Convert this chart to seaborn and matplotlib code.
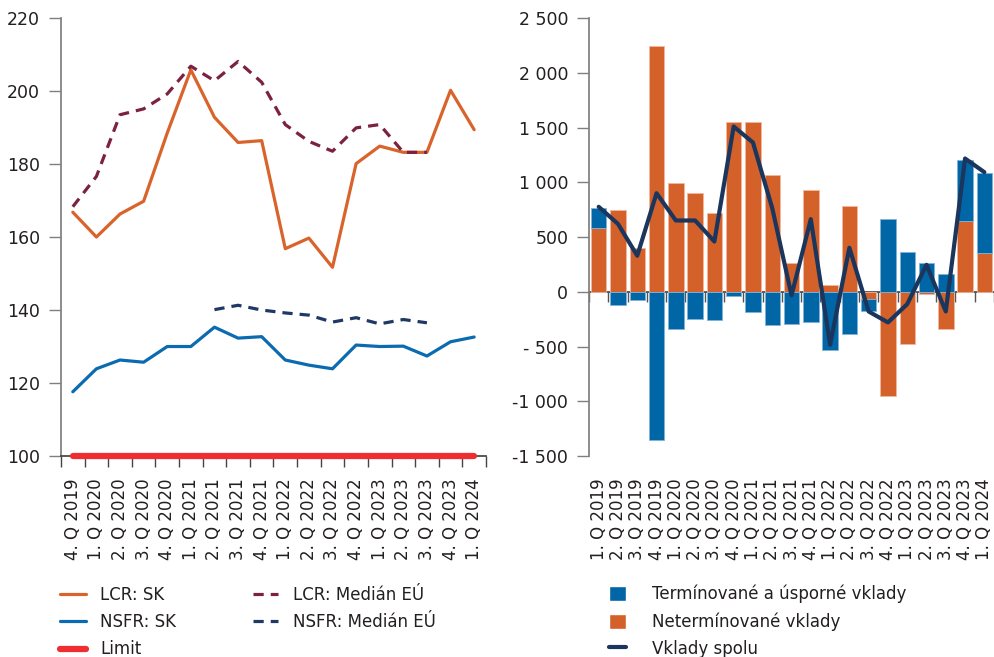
import numpy as np
import pandas as pd
import matplotlib
matplotlib.use("Agg")
import matplotlib.pyplot as plt
import matplotlib.ticker as ticker
from matplotlib.patches import Patch
from matplotlib.lines import Line2D
import seaborn as sns

sns.set_theme(style="ticks")
plt.rcParams["font.family"] = ["DejaVu Sans"]
plt.rcParams["text.color"] = "#231f20"

# --- ľavý graf: LCR a NSFR (%) ---
ratio_quarters = ["4. Q 2019", "1. Q 2020", "2. Q 2020", "3. Q 2020", "4. Q 2020",
                  "1. Q 2021", "2. Q 2021", "3. Q 2021", "4. Q 2021",
                  "1. Q 2022", "2. Q 2022", "3. Q 2022", "4. Q 2022",
                  "1. Q 2023", "2. Q 2023", "3. Q 2023", "4. Q 2023", "1. Q 2024"]
lcr_sk = [166.8, 160.0, 166.3, 169.8, 188.5, 205.8, 192.8, 185.9, 186.4,
          156.8, 159.7, 151.7, 180.1, 184.9, 183.2, 183.2, 200.2, 189.4]
lcr_eu = [168.3, 176.6, 193.5, 195.1, 199.2, 206.8, 202.8, 208.1, 202.4,
          190.8, 186.2, 183.5, 189.9, 190.8, 183.2, 183.2, np.nan, np.nan]
nsfr_sk = [117.6, 123.9, 126.3, 125.7, 130.0, 130.0, 135.3, 132.3, 132.7,
           126.3, 124.9, 123.9, 130.4, 130.0, 130.1, 127.4, 131.3, 132.6]
nsfr_eu = [np.nan, np.nan, np.nan, np.nan, np.nan, np.nan, 140.1, 141.3, 140.0,
           139.2, 138.6, 136.7, 137.9, 136.2, 137.4, 136.5, np.nan, np.nan]
limit = [100] * 18

# --- pravý graf: zmena vkladov (mil. EUR) ---
deposit_quarters = ["1. Q 2019", "2. Q 2019", "3. Q 2019", "4. Q 2019",
                    "1. Q 2020", "2. Q 2020", "3. Q 2020", "4. Q 2020",
                    "1. Q 2021", "2. Q 2021", "3. Q 2021", "4. Q 2021",
                    "1. Q 2022", "2. Q 2022", "3. Q 2022", "4. Q 2022",
                    "1. Q 2023", "2. Q 2023", "3. Q 2023", "4. Q 2023", "1. Q 2024"]
term_dep = [185, -125, -79, -1351, -341, -249, -262, -43, -186, -307, -292,
            -274, -529, -383, -116, 663, 359, 259, 161, 557, 733]
demand_dep = [580, 745, 402, 2248, 992, 900, 721, 1548, 1548, 1065, 262,
              928, 58, 782, -64, -949, -481, -21, -341, 648, 353]
total_dep = [776, 620, 329, 900, 651, 651, 459, 1509, 1363, 764, -33,
             663, -484, 402, -180, -280, -113, 246, -180, 1217, 1092]

ORANGE = "#d9642b"
BLUE = "#0a6bb0"
MAROON = "#7b2141"
NAVY = "#1f3864"
RED = "#ee2e31"
BAR_ORANGE = "#d4602a"
BAR_BLUE = "#0066a6"
LINE_NAVY = "#1b365d"
AXIS = "#7f7f7f"

fig = plt.figure(figsize=(9.95, 6.57), dpi=100)
ax1 = fig.add_axes([0.0613, 0.3059, 0.4271, 0.6667])
ax2 = fig.add_axes([0.592, 0.3059, 0.407, 0.6667])

# ---------------- ľavý graf ----------------
pos1 = np.arange(len(ratio_quarters))
dash = (0, (3.2, 2.2))
sns.lineplot(x=pos1, y=lcr_sk, color=ORANGE, linewidth=2.3, label="LCR: SK", ax=ax1)
sns.lineplot(x=pos1, y=nsfr_sk, color=BLUE, linewidth=2.3, label="NSFR: SK", ax=ax1)
sns.lineplot(x=pos1, y=limit, color=RED, linewidth=4.5, solid_capstyle="round",
             clip_on=False, zorder=5, label="Limit", ax=ax1)
sns.lineplot(x=pos1, y=lcr_eu, color=MAROON, linewidth=2.3, linestyle=dash,
             label="LCR: Medián EÚ", ax=ax1)
sns.lineplot(x=pos1, y=nsfr_eu, color=NAVY, linewidth=2.3, linestyle=dash,
             label="NSFR: Medián EÚ", ax=ax1)

handles1, labels1 = ax1.get_legend_handles_labels()
ax1.get_legend().remove()

ax1.set_xlim(-0.5, len(ratio_quarters) - 0.5)
ax1.set_ylim(100, 220)
ax1.set_yticks(np.arange(100, 221, 20))
ax1.set_xticks(pos1)
ax1.set_xticklabels(ratio_quarters, rotation=90)
ax1.set_xticks(np.arange(-0.5, len(ratio_quarters), 1.0), minor=True)
ax1.tick_params(axis="x", which="major", length=0, pad=16, labelsize=12, labelcolor="#231f20")
ax1.tick_params(axis="x", which="minor", length=8, width=1, color="#444444", direction="out")
ax1.tick_params(axis="y", length=9, width=1, color=AXIS, pad=6, labelsize=12.5, labelcolor="#231f20")
for s in ["top", "right"]:
    ax1.spines[s].set_visible(False)
ax1.spines["left"].set_color(AXIS)
ax1.spines["bottom"].set_color("#444444")

# ---------------- pravý graf ----------------
df = pd.DataFrame({"quarter": deposit_quarters, "term": term_dep,
                   "demand": demand_dep, "total": total_dep})
term_bottom = np.where(np.sign(df["term"]) == np.sign(df["demand"]), df["demand"], 0)

sns.barplot(data=df, x="quarter", y="demand", order=deposit_quarters, color=BAR_ORANGE,
            saturation=1, errorbar=None, width=0.8, edgecolor="#f3b79a", linewidth=0.6, ax=ax2)
sns.barplot(data=df, x="quarter", y="term", order=deposit_quarters, color=BAR_BLUE,
            saturation=1, errorbar=None, width=0.8, bottom=term_bottom,
            edgecolor="#7fb3d9", linewidth=0.6, ax=ax2)
pos2 = np.arange(len(deposit_quarters))
sns.lineplot(x=pos2, y=df["total"], color=LINE_NAVY, linewidth=3, zorder=6, ax=ax2)

ax2.set_xlim(-0.5, len(deposit_quarters) - 0.5)
ax2.set_ylim(-1500, 2500)
ax2.set_yticks(np.arange(-1500, 2501, 500))


def deposit_fmt(v, _):
    s = f"{abs(v):,.0f}".replace(",", " ")
    if v < 0:
        return ("- " if abs(v) < 1000 else "-") + s
    return s


ax2.yaxis.set_major_formatter(ticker.FuncFormatter(deposit_fmt))
ax2.set_xticks(pos2)
ax2.set_xticklabels(deposit_quarters, rotation=90)
ax2.set_xlabel("")
ax2.set_ylabel("")
ax2.tick_params(axis="x", length=0, pad=16, labelsize=12, labelcolor="#231f20")
ax2.tick_params(axis="y", length=9, width=1, color=AXIS, pad=6, labelsize=12.5, labelcolor="#231f20")
for s in ["top", "right", "bottom"]:
    ax2.spines[s].set_visible(False)
ax2.spines["left"].set_color(AXIS)

# nulová os s ryskami medzi štvrťrokmi
zero_frac = (0 - (-1500)) / (2500 - (-1500))
sec = ax2.secondary_xaxis(zero_frac)
sec.set_xticks(np.arange(-0.5, len(deposit_quarters), 1.0))
sec.tick_params(axis="x", length=7, width=1, color="#555555", direction="out",
                labelbottom=False, labeltop=False)
sec.spines["bottom"].set_color("#444444")
sec.spines["bottom"].set_linewidth(1.2)

# ---------------- legendy ----------------
fig.legend(handles1, labels1,
           loc="upper left", bbox_to_anchor=(0.0603, 0.108), ncol=2, frameon=False,
           fontsize=12, handlelength=1.55, handletextpad=0.85, columnspacing=4.6,
           labelspacing=0.55, borderpad=0, borderaxespad=0)

handles2 = [Patch(facecolor=BAR_BLUE), Patch(facecolor=BAR_ORANGE),
            Line2D([], [], color=LINE_NAVY, linewidth=3)]
labels2 = ["Termínované a úsporné vklady", "Netermínované vklady", "Vklady spolu"]
fig.legend(handles2, labels2, loc="upper left", bbox_to_anchor=(0.612, 0.110),
           frameon=False, fontsize=12, handlelength=1.0, handleheight=1.0,
           handletextpad=1.6, labelspacing=0.55, borderpad=0, borderaxespad=0)

fig.savefig("out.png", dpi=100)
plt.close(fig)
